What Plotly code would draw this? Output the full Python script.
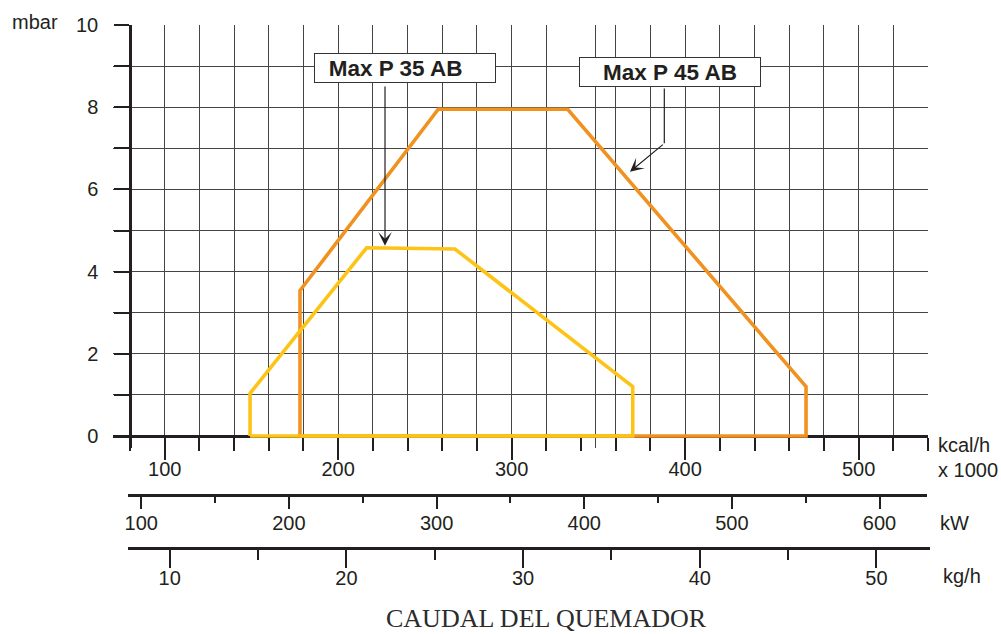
import plotly.graph_objects as go

# ---------------- data ----------------
# Max P 45 AB working field (kcal/h x1000 , mbar)
p45_kcal = [178.0, 178.0, 257.7, 332.3, 469.7, 469.7, 178.0]
p45_mbar = [0.0, 3.54, 7.95, 7.95, 1.20, 0.0, 0.0]
# Max P 35 AB working field
p35_kcal = [149.2, 149.2, 216.4, 267.3, 369.8, 369.8, 149.2]
p35_mbar = [0.0, 1.04, 4.58, 4.55, 1.20, 0.0, 0.0]

mbar_ticks = [0, 1, 2, 3, 4, 5, 6, 7, 8, 9, 10]
mbar_labels = ["0", "", "2", "", "4", "", "6", "", "8", "", "10"]
kcal_grid = [80, 100, 120, 140, 160, 180, 200, 220, 240, 260, 280, 300, 320,
             348.5, 360, 380, 400, 420, 440, 460, 480, 500, 520, 540]
kcal_major = [100, 200, 300, 400, 500]
kw_major = [100, 200, 300, 400, 500, 600]
kgh_major = [10, 20, 30, 40, 50]

label_35 = "Max P 35 AB"
label_45 = "Max P 45 AB"
# arrow anchor points (kcal, mbar)
arrow35 = dict(tail=(227.0, 8.54), tip=(227.0, 4.63))
arrow45 = dict(top=(388.0, 8.49), bend=(388.0, 7.12), tip=(368.2, 6.43))

# ---------------- geometry ----------------
W, H = 1001, 634
L, R, T, B = 113, 71, 25, 74
PW, PH = W - L - R, H - T - B


def fx(px):
    return (px - L) / PW


def fy(py):
    return (H - B - py) / PH


INK = "#231f20"
GRID = "#454545"
ORANGE = "#F0921F"
YELLOW = "#FDC316"
SANS = "Liberation Sans, Arial, sans-serif"
SERIF = "Liberation Serif, Times New Roman, serif"

# main (kcal/h) axis: 80 -> px130, 540 -> px928
kpx = (928 - 130) / 460.0
x_lo = 80 - (130 - L) / kpx
x_hi = 540.0
# mbar axis: 0 -> px436, 10 -> px25
mpx = (436 - 25) / 10.0
y_lo = -0.3
# kW axis calibration
kw_lo = 350 + (128 - 510.4) / 1.4766
kw_hi = 350 + (926.7 - 510.4) / 1.4766
# kg/h axis calibration
kg_lo = 30 + (128 - 523.08) / 17.67
kg_hi = 30 + (930 - 523.08) / 17.67

fig = go.Figure()
fig.add_trace(go.Scatter(x=p45_kcal, y=p45_mbar, mode="lines",
                         line=dict(color=ORANGE, width=3.6),
                         xaxis="x", yaxis="y", showlegend=False, hoverinfo="skip"))
fig.add_trace(go.Scatter(x=p35_kcal, y=p35_mbar, mode="lines",
                         line=dict(color=YELLOW, width=3.6),
                         xaxis="x", yaxis="y", showlegend=False, hoverinfo="skip"))
# empty traces to activate the secondary axes
fig.add_trace(go.Scatter(x=[], y=[], xaxis="x4", yaxis="y", showlegend=False, hoverinfo="skip"))
fig.add_trace(go.Scatter(x=[], y=[], xaxis="x2", yaxis="y2", showlegend=False, hoverinfo="skip"))
fig.add_trace(go.Scatter(x=[], y=[], xaxis="x3", yaxis="y2", showlegend=False, hoverinfo="skip"))

tickfont = dict(family=SANS, size=20, color=INK)

fig.update_layout(
    width=W, height=H,
    margin=dict(l=L, r=R, t=T, b=B, pad=0),
    paper_bgcolor="white", plot_bgcolor="white",
    showlegend=False,
    # grid-only kcal axis
    xaxis=dict(domain=[0, fx(928)], range=[x_lo, x_hi], anchor="y",
               tickmode="array", tickvals=kcal_grid, showticklabels=False,
               ticks="", showline=False, zeroline=False,
               showgrid=True, gridcolor=GRID, gridwidth=1),
    # kcal/h ticks and labels
    xaxis4=dict(overlaying="x", anchor="free", position=fy(436),
                range=[x_lo, x_hi], tickmode="array", tickvals=kcal_major,
                ticks="outside", ticklen=22, tickwidth=2, tickcolor=INK,
                minor=dict(dtick=20, tick0=0, ticks="outside", ticklen=13,
                           tickwidth=2, tickcolor=INK, showgrid=False),
                showline=True, linewidth=2.5, linecolor=INK,
                showgrid=False, zeroline=False, tickfont=tickfont,
                ticklabelstandoff=-8, layer="below traces"),
    yaxis=dict(domain=[fy(436 - y_lo * mpx), 1], range=[y_lo, 10],
               anchor="free", position=fx(130),
               tickmode="array", tickvals=mbar_ticks, ticktext=mbar_labels,
               ticks="outside", ticklen=15, tickwidth=2, tickcolor=INK,
               showline=True, linewidth=2.5, linecolor=INK,
               showgrid=True, gridcolor=GRID, gridwidth=1, zeroline=False,
               tickfont=tickfont, ticklabelstandoff=12),
    xaxis2=dict(domain=[fx(128), fx(926.7)], range=[kw_lo, kw_hi],
                anchor="free", position=fy(495),
                tickmode="array", tickvals=kw_major,
                ticks="outside", ticklen=12, tickwidth=2, tickcolor=INK,
                minor=dict(dtick=50, tick0=0, ticks="outside", ticklen=6,
                           tickwidth=2, tickcolor=INK, showgrid=False),
                showline=True, linewidth=2.5, linecolor=INK,
                showgrid=False, zeroline=False, tickfont=tickfont,
                ticklabelstandoff=-3),
    xaxis3=dict(domain=[fx(128), fx(930)], range=[kg_lo, kg_hi],
                anchor="free", position=fy(548),
                tickmode="array", tickvals=kgh_major,
                ticks="outside", ticklen=18, tickwidth=2, tickcolor=INK,
                minor=dict(dtick=5, tick0=0, ticks="outside", ticklen=10,
                           tickwidth=2, tickcolor=INK, showgrid=False),
                showline=True, linewidth=2.5, linecolor=INK,
                showgrid=False, zeroline=False, tickfont=tickfont,
                ticklabelstandoff=-7),
    yaxis2=dict(domain=[0, 0.02], anchor="x2", visible=False, range=[0, 1]),
)

ann = []
plain = dict(xref="paper", yref="paper", showarrow=False, font=tickfont)
ann.append(dict(text="mbar", x=fx(34.5), y=fy(22), xanchor="center", yanchor="middle", **plain))
ann.append(dict(text="kcal/h", x=fx(936), y=fy(445), xanchor="left", yanchor="middle", **plain))
ann.append(dict(text="x 1000", x=fx(936), y=fy(470), xanchor="left", yanchor="middle", **plain))
ann.append(dict(text="kW", x=fx(938), y=fy(523), xanchor="left", yanchor="middle", **plain))
ann.append(dict(text="kg/h", x=fx(941.5), y=fy(576), xanchor="left", yanchor="middle", **plain))
ann.append(dict(text="CAUDAL DEL QUEMADOR", x=fx(546.7), y=fy(618), xref="paper", yref="paper",
                xanchor="center", yanchor="middle", showarrow=False,
                font=dict(family=SERIF, size=26, color="#2b2b2b")))

boxfont = dict(family=SANS, size=22.5, color=INK)
ann.append(dict(text="<b>" + label_35 + "</b>&nbsp;&nbsp;&nbsp;", x=fx(404.5), y=fy(68.3),
                xref="paper", yref="paper", xanchor="center", yanchor="middle",
                showarrow=False, width=180, height=28, borderpad=0, borderwidth=1,
                bordercolor="#333333", bgcolor="white", font=boxfont, align="center"))
ann.append(dict(text="<b>" + label_45 + "</b>", x=fx(670), y=fy(71.5),
                xref="paper", yref="paper", xanchor="center", yanchor="middle",
                showarrow=False, width=180, height=28, borderpad=0, borderwidth=1,
                bordercolor="#333333", bgcolor="white", font=boxfont, align="center"))

arr = dict(xref="x", yref="y", axref="x", ayref="y", text="", showarrow=True,
           arrowcolor=INK, arrowwidth=1.2)
ann.append(dict(x=arrow35["tip"][0], y=arrow35["tip"][1],
                ax=arrow35["tail"][0], ay=arrow35["tail"][1],
                arrowhead=3, arrowsize=1.9, **arr))
ann.append(dict(x=arrow45["bend"][0], y=arrow45["bend"][1],
                ax=arrow45["top"][0], ay=arrow45["top"][1],
                arrowhead=0, **arr))
ann.append(dict(x=arrow45["tip"][0], y=arrow45["tip"][1],
                ax=arrow45["bend"][0], ay=arrow45["bend"][1],
                arrowhead=3, arrowsize=1.9, **arr))
fig.update_layout(annotations=ann)

fig.write_html("out.html", config={"displayModeBar": False},
               post_script="document.body.style.margin='0';")
